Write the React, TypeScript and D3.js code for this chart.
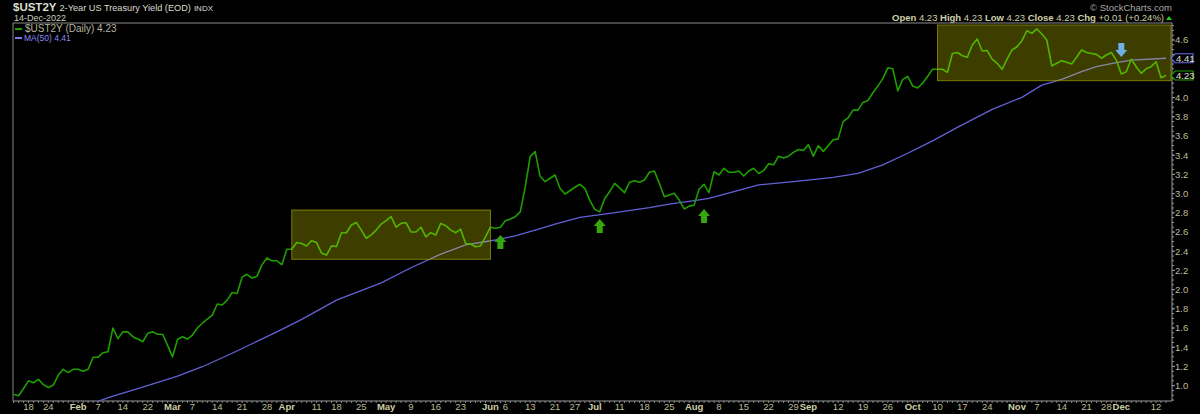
import React from "react";
import * as d3 from "d3";

// ---------- DATA ----------
const START_DATE = "2022-01-12";
const END_DATE = "2022-12-14";
const HOLIDAYS = ["2022-01-17", "2022-02-21", "2022-04-15", "2022-05-30", "2022-06-20", "2022-07-04", "2022-09-05", "2022-11-24"];

// $UST2Y daily close (one value per trading day)
const YIELD_2Y = [
  0.91, 0.895, 0.97, 1.05, 1.03, 1.065, 1.01, 0.98, 1.006, 1.11,
  1.17, 1.135, 1.17, 1.17, 1.15, 1.17, 1.295, 1.295, 1.343, 1.353,
  1.6, 1.49, 1.56, 1.56, 1.51, 1.485, 1.457, 1.545, 1.56, 1.535,
  1.535, 1.42, 1.3, 1.48, 1.51, 1.485, 1.527, 1.6, 1.65, 1.694,
  1.735, 1.85, 1.84, 1.89, 1.97, 1.96, 2.13, 2.16, 2.12, 2.14,
  2.26, 2.33, 2.3, 2.3, 2.26, 2.42, 2.42, 2.49, 2.48, 2.455,
  2.51, 2.49, 2.38, 2.36, 2.455, 2.45, 2.593, 2.593, 2.673, 2.7,
  2.62, 2.535, 2.57, 2.62, 2.683, 2.718, 2.76, 2.65, 2.69, 2.697,
  2.6, 2.6, 2.65, 2.55, 2.593, 2.57, 2.69, 2.666, 2.62, 2.593,
  2.63, 2.48, 2.475, 2.447, 2.455, 2.55, 2.65, 2.64, 2.65, 2.718,
  2.735, 2.76, 2.81, 3.07, 3.385, 3.437, 3.18, 3.124, 3.16, 3.194,
  3.055, 2.996, 3.03, 3.066, 3.097, 3.055, 2.93, 2.836, 2.81, 2.95,
  3.02, 3.107, 3.06, 3.01, 3.118, 3.135, 3.118, 3.142, 3.222, 3.236,
  3.107, 2.968, 2.986, 3.003, 2.933, 2.84, 2.87, 2.88, 3.045, 3.097,
  3.01, 3.228, 3.194, 3.264, 3.222, 3.222, 3.236, 3.183, 3.236, 3.264,
  3.21, 3.24, 3.31, 3.3, 3.39, 3.37, 3.39, 3.43, 3.46, 3.45,
  3.51, 3.39, 3.5, 3.44, 3.5, 3.56, 3.57, 3.75, 3.79, 3.87,
  3.87, 3.95, 3.97, 4.05, 4.12, 4.2, 4.31, 4.3, 4.07, 4.19,
  4.22, 4.12, 4.1, 4.15, 4.22, 4.295, 4.295, 4.295, 4.263, 4.46,
  4.47, 4.436, 4.42, 4.548, 4.61, 4.485, 4.49, 4.4, 4.357, 4.295,
  4.4, 4.496, 4.53, 4.593, 4.697, 4.67, 4.715, 4.663, 4.6, 4.33,
  4.357, 4.385, 4.368, 4.35, 4.42, 4.496, 4.47, 4.46, 4.45, 4.41,
  4.444, 4.47, 4.39, 4.246, 4.27, 4.4, 4.322, 4.253, 4.3, 4.322,
  4.374, 4.207, 4.23,
];

// MA(50) (trading-day index, value)
const MA_INDEX = [16, 20, 25, 30, 33, 38, 44, 53, 58, 65, 74, 80, 86, 91, 97, 101, 105, 109, 114, 120, 128, 132, 137, 140, 145, 150, 158, 165, 170, 175, 180, 185, 190, 197, 203, 207, 211, 215, 218, 222, 225, 232];
const MA_VALUES = [0.82, 0.89, 0.97, 1.05, 1.1, 1.197, 1.337, 1.56, 1.69, 1.89, 2.07, 2.228, 2.37, 2.465, 2.517, 2.56, 2.62, 2.683, 2.753, 2.795, 2.853, 2.89, 2.926, 2.95, 3.02, 3.09, 3.13, 3.17, 3.21, 3.3, 3.42, 3.55, 3.69, 3.878, 4.003, 4.13, 4.19, 4.27, 4.322, 4.364, 4.39, 4.41];

const X_TICK_DATES = [
  "2022-01-18", "2022-01-24", "2022-02-01", "2022-02-07", "2022-02-14", "2022-02-22",
  "2022-03-01", "2022-03-07", "2022-03-14", "2022-03-21", "2022-03-28",
  "2022-04-01", "2022-04-11", "2022-04-18", "2022-04-25",
  "2022-05-02", "2022-05-09", "2022-05-16", "2022-05-23",
  "2022-06-01", "2022-06-06", "2022-06-13", "2022-06-21", "2022-06-27",
  "2022-07-01", "2022-07-11", "2022-07-18", "2022-07-25",
  "2022-08-01", "2022-08-08", "2022-08-15", "2022-08-22", "2022-08-29",
  "2022-09-01", "2022-09-12", "2022-09-19", "2022-09-26",
  "2022-10-03", "2022-10-10", "2022-10-17", "2022-10-24",
  "2022-11-01", "2022-11-07", "2022-11-14", "2022-11-21", "2022-11-28",
  "2022-12-01", "2022-12-12",
];
const X_TICK_LABELS = [
  "18", "24", "Feb", "7", "14", "22",
  "Mar", "7", "14", "21", "28",
  "Apr", "11", "18", "25",
  "May", "9", "16", "23",
  "Jun", "6", "13", "21", "27",
  "Jul", "11", "18", "25",
  "Aug", "8", "15", "22", "29",
  "Sep", "12", "19", "26",
  "Oct", "10", "17", "24",
  "Nov", "7", "14", "21", "28",
  "Dec", "12",
];
const Y_TICKS = [1.0, 1.2, 1.4, 1.6, 1.8, 2.0, 2.2, 2.4, 2.6, 2.8, 3.0, 3.2, 3.4, 3.6, 3.8, 4.0, 4.2, 4.4, 4.6];

// annotation boxes (trading-day index range, yield range)
const BOX_X0 = [56, 186];
const BOX_X1 = [96, 233];
const BOX_LOW = [2.316, 4.176];
const BOX_HIGH = [2.829, 4.756];

// annotation arrows (trading-day index, tip value, direction)
const ARROW_INDEX = [98, 118, 139, 223];
const ARROW_VALUE = [2.569, 2.735, 2.84, 4.423];
const ARROW_DIR = ["up", "up", "up", "down"];

const LAST_CLOSE = 4.23;
const LAST_MA = 4.41;

// ---------- HELPERS ----------
function tradingDays(): string[] {
  const out: string[] = [];
  const d = new Date(START_DATE + "T00:00:00Z");
  const end = new Date(END_DATE + "T00:00:00Z");
  while (d <= end) {
    const wd = d.getUTCDay();
    const iso = d.toISOString().slice(0, 10);
    if (wd !== 0 && wd !== 6 && !HOLIDAYS.includes(iso)) out.push(iso);
    d.setUTCDate(d.getUTCDate() + 1);
  }
  return out;
}

const W = 1200, H = 414;
const L = 13, R = 1172, T = 23, B = 401;
const FONT = "'Liberation Sans', Arial, sans-serif";
const TAN = "#bdbd98";
const GREEN = "#1f9e00";
const BLUE = "#6262d6";

export default function App() {
  const dates = tradingDays();
  const n = Math.min(dates.length, YIELD_2Y.length);
  const x = d3.scaleLinear().domain([0, dates.length - 1]).range([13.6, 1166]);
  const y = d3.scaleLinear().domain([0.84, 4.777]).range([B, T]);

  const line = d3.line<number>().x((_, i) => x(i)).y((v) => y(v));
  const priceD = line(YIELD_2Y.slice(0, n)) || "";
  const maLine = d3.line<number>().x((_, i) => x(MA_INDEX[i])).y((v) => y(v));
  const maD = maLine(MA_VALUES) || "";

  const minorY = d3.range(0.85, 4.776, 0.05);
  const tagYs = [y(LAST_MA), y(LAST_CLOSE)];

  const arrowPath = (cx: number, tip: number, dir: string) => {
    const s = dir === "up" ? 1 : -1;
    const hw = 6, sw = 3, hh = 7, tl = 14;
    return `M${cx},${tip} L${cx + hw},${tip + s * hh} L${cx + sw},${tip + s * hh} L${cx + sw},${tip + s * tl} L${cx - sw},${tip + s * tl} L${cx - sw},${tip + s * hh} L${cx - hw},${tip + s * hh} Z`;
  };

  const tag = (v: number, color: string) => {
    const cy = y(v);
    const x0 = R - 1, x1 = 1193;
    return (
      <g key={"tag" + v}>
        <path d={`M${x0},${cy} L${x0 + 4},${cy - 4.5} L${x1},${cy - 4.5} L${x1},${cy + 4.5} L${x0 + 4},${cy + 4.5} Z`} fill="#000" stroke={color} strokeWidth={1.2} />
        <text x={x0 + 5} y={cy + 3.4} fontSize={9.5} fill="#e0e0cc" fontFamily={FONT}>{v.toFixed(2)}</text>
      </g>
    );
  };

  return (
    <div>
      <style>{"body{margin:0;background:#000;}"}</style>
      <svg width={W} height={H} style={{ display: "block", background: "#000" }}>
        <defs>
          <clipPath id="plot">
            <rect x={L} y={T} width={R - L} height={B - T} />
          </clipPath>
        </defs>
        <rect x={0} y={0} width={W} height={H} fill="#000" />

        {/* header */}
        <text x={13} y={11} fontFamily={FONT} fill="#deded0">
          <tspan fontSize={11.5} fontWeight="bold">$UST2Y</tspan>
          <tspan fontSize={9.2} dx={3}>2-Year US Treasury Yield (EOD)</tspan>
          <tspan fontSize={8} dx={3}>INDX</tspan>
        </text>
        <text x={14} y={21} fontSize={9} fontFamily={FONT} fill="#cfcfc0">14-Dec-2022</text>
        <text x={1172} y={11} fontSize={9.5} fontFamily={FONT} fill="#a8a8a8" textAnchor="end">© StockCharts.com</text>
        <text x={1164} y={21} fontSize={9.5} fontFamily={FONT} fill="#cfcfa8" textAnchor="end">
          <tspan fontWeight="bold">Open</tspan><tspan> 4.23  </tspan>
          <tspan fontWeight="bold">High</tspan><tspan> 4.23  </tspan>
          <tspan fontWeight="bold">Low</tspan><tspan> 4.23  </tspan>
          <tspan fontWeight="bold">Close</tspan><tspan> 4.23  </tspan>
          <tspan fontWeight="bold">Chg</tspan><tspan> +0.01 (+0.24%)</tspan>
        </text>
        <path d="M1166,20 L1172,20 L1169,16 Z" fill="#22cc22" />

        {/* frame */}
        <line x1={L} x2={R} y1={T} y2={T} stroke="#8a8a8a" strokeWidth={1} />
        <line x1={L} x2={L} y1={T} y2={B} stroke="#8a8a8a" strokeWidth={1} />
        <line x1={R} x2={R} y1={T} y2={B} stroke="#9a9a9a" strokeWidth={1} />
        <line x1={L} x2={R} y1={B} y2={B} stroke="#9a9a9a" strokeWidth={1} />

        {/* series */}
        <g clipPath="url(#plot)">
          <path d={maD} fill="none" stroke={BLUE} strokeWidth={1.3} />
          <path d={priceD} fill="none" stroke={GREEN} strokeWidth={1.6} strokeLinejoin="round" />
          {BOX_X0.map((b, i) => (
            <rect key={i} x={x(b)} y={y(BOX_HIGH[i])} width={x(BOX_X1[i]) - x(b)} height={y(BOX_LOW[i]) - y(BOX_HIGH[i])}
              fill="#ffff00" fillOpacity={0.24} stroke="#9a9a00" strokeOpacity={0.75} strokeWidth={1} />
          ))}
          {ARROW_INDEX.map((ai, i) => (
            <path key={i} d={arrowPath(x(ai), y(ARROW_VALUE[i]), ARROW_DIR[i])}
              fill={ARROW_DIR[i] === "up" ? "#36a80e" : "#6cb0e6"} />
          ))}
        </g>

        {/* legend */}
        <line x1={15} x2={22} y1={29} y2={29} stroke={GREEN} strokeWidth={2} />
        <text x={25} y={32} fontSize={10} fontFamily={FONT} fill="#b4b49e">$UST2Y (Daily) {LAST_CLOSE.toFixed(2)}</text>
        <line x1={15} x2={22} y1={38} y2={38} stroke="#7a7ae8" strokeWidth={2} />
        <text x={24} y={40.5} fontSize={8.5} fontFamily={FONT} fill="#8a8af0">MA(50) {LAST_MA.toFixed(2)}</text>

        {/* right axis */}
        {minorY.map((v, i) => (
          <line key={"m" + i} x1={R} x2={R + 2} y1={y(v)} y2={y(v)} stroke="#9a9a9a" strokeWidth={1} />
        ))}
        {Y_TICKS.map((v) => {
          const hidden = tagYs.some((ty) => Math.abs(ty - y(v)) < 9);
          return (
            <g key={"y" + v}>
              <line x1={R} x2={R + 3} y1={y(v)} y2={y(v)} stroke="#9a9a9a" />
              {!hidden && (
                <text x={1175} y={y(v) + 3.4} fontSize={9.5} fontFamily={FONT} fill={TAN}>{v.toFixed(1)}</text>
              )}
            </g>
          );
        })}
        {tag(LAST_MA, "#6a6ae8")}
        {tag(LAST_CLOSE, "#20a000")}

        {/* bottom axis */}
        {dates.map((d, i) => (
          <line key={"t" + i} x1={x(i)} x2={x(i)} y1={B} y2={B + 2} stroke="#8a8a8a" strokeWidth={1} />
        ))}
        {X_TICK_DATES.map((d, i) => {
          const idx = dates.indexOf(d);
          const lab = X_TICK_LABELS[i];
          const bold = isNaN(Number(lab));
          return (
            <text key={"xl" + i} x={x(idx)} y={410} fontSize={9.5} textAnchor="middle" fontFamily={FONT}
              fontWeight={bold ? "bold" : "normal"} fill={bold ? "#cfcfa6" : TAN}>{lab}</text>
          );
        })}
      </svg>
    </div>
  );
}
